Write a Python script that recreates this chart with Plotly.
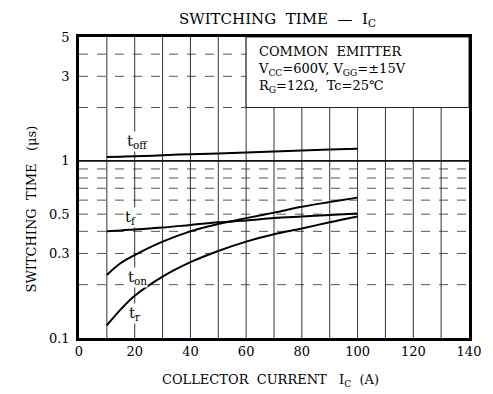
import plotly.graph_objects as go
import math

# ---- data ----
ic = [10, 15, 20, 30, 40, 50, 60, 70, 80, 90, 100]
t_off = [1.05, 1.055, 1.06, 1.075, 1.09, 1.10, 1.115, 1.13, 1.145, 1.16, 1.17]
t_f = [0.40, 0.405, 0.41, 0.42, 0.435, 0.45, 0.46, 0.475, 0.485, 0.495, 0.505]
t_on = [0.227, 0.265, 0.294, 0.35, 0.40, 0.44, 0.475, 0.51, 0.55, 0.585, 0.62]
t_r = [0.118, 0.145, 0.173, 0.222, 0.268, 0.31, 0.35, 0.385, 0.415, 0.45, 0.485]

x_ticks = [0, 20, 40, 60, 80, 100, 120, 140]
y_ticks = [0.1, 0.3, 0.5, 1, 3, 5]
y_tick_text = ["0.1", "0.3", "0.5", "1", "3", "5"]
h_grid = [0.2, 0.3, 0.4, 0.5, 0.6, 0.7, 0.8, 0.9, 2, 3, 4]
v_grid = [10, 20, 30, 40, 50, 60, 70, 80, 90, 100, 110, 120, 130]

FONT = "DejaVu Serif"
SP = "\u00a0"

fig = go.Figure()

def seg_trace(xs_list, ys_list, width, color, dash="solid"):
    xs, ys = [], []
    for a, b in zip(xs_list, ys_list):
        xs += list(a) + [None]
        ys += list(b) + [None]
    fig.add_trace(go.Scatter(x=xs, y=ys, mode="lines", hoverinfo="skip",
                             line=dict(color=color, width=width, dash=dash),
                             showlegend=False))

# horizontal grid (dashed)
seg_trace([[0, 140]] * len(h_grid), [[v, v] for v in h_grid], 1, "#555", "dash")
# vertical grid
seg_trace([[v, v] for v in v_grid], [[0.1, 5]] * len(v_grid), 1, "#333")
# 1.0 line solid
seg_trace([[0, 140]], [[1, 1]], 1.6, "#111")

# white box for condition text
fig.add_trace(go.Scatter(x=[60, 140, 140, 60, 60], y=[2, 2, 5, 5, 2], mode="lines",
                         fill="toself", fillcolor="white", hoverinfo="skip",
                         line=dict(color="#222", width=1), showlegend=False))

# curves
for ys in [t_off, t_f, t_on, t_r]:
    fig.add_trace(go.Scatter(x=ic, y=ys, mode="lines", line=dict(color="black", width=2, shape="spline"),
                             showlegend=False, hoverinfo="skip"))

# curve labels
labels = [("t<sub>off</sub>", 21, 1.28), ("t<sub>f</sub>", 18.5, 0.478),
          ("t<sub>on</sub>", 21, 0.22), ("t<sub>r</sub>", 20, 0.137)]
for txt, x, y in labels:
    fig.add_annotation(x=x, y=math.log10(y), text=txt, showarrow=False,
                       font=dict(family=FONT, size=15, color="black"),
                       bgcolor="white", borderpad=0)

fig.add_annotation(xref="paper", yref="paper", x=0.455, y=0.985, xanchor="left", yanchor="top",
                   align="left", showarrow=False,
                   text=f"COMMON{SP}{SP}EMITTER<br>V<sub>CC</sub>=600V, V<sub>GG</sub>=±15V<br>R<sub>G</sub>=12Ω,{SP}{SP}Tc=25℃",
                   font=dict(family=FONT, size=13, color="black"))

# axis titles
fig.add_annotation(xref="paper", yref="paper", x=-0.145, y=0.43,
                   text=f"SWITCHING{SP}{SP}TIME{SP}{SP}{SP}(μs)",
                   textangle=-90, showarrow=False, font=dict(family=FONT, size=13, color="black"))
fig.add_annotation(xref="paper", yref="paper", x=0.49, y=-0.175,
                   text=f"COLLECTOR{SP}{SP}CURRENT{SP}{SP}{SP}I<sub>C</sub>{SP}{SP}(A)",
                   showarrow=False, font=dict(family=FONT, size=13, color="black"))
fig.add_annotation(xref="paper", yref="paper", x=0.51, y=1.095,
                   text=f"SWITCHING{SP}{SP}TIME{SP}{SP}—{SP}{SP}I<sub>C</sub>",
                   showarrow=False, font=dict(family=FONT, size=15, color="black"))

fig.update_layout(
    width=493, height=394,
    margin=dict(l=79, r=14, t=37, b=56),
    paper_bgcolor="white", plot_bgcolor="white",
    font=dict(family=FONT, size=13, color="black"),
    xaxis=dict(range=[0, 140], tickvals=x_ticks, showgrid=False, zeroline=False,
               showline=True, linewidth=2.5, linecolor="black", mirror=True, ticks="",
               tickfont=dict(family=FONT, size=13)),
    yaxis=dict(type="log", range=[-1, math.log10(5)], tickvals=y_ticks, ticktext=y_tick_text,
               showgrid=False, zeroline=False, showline=True, linewidth=2.5, linecolor="black",
               mirror=True, ticks="", ticklabelstandoff=4, tickfont=dict(family=FONT, size=13)),
)

fig.write_html("out.html")
